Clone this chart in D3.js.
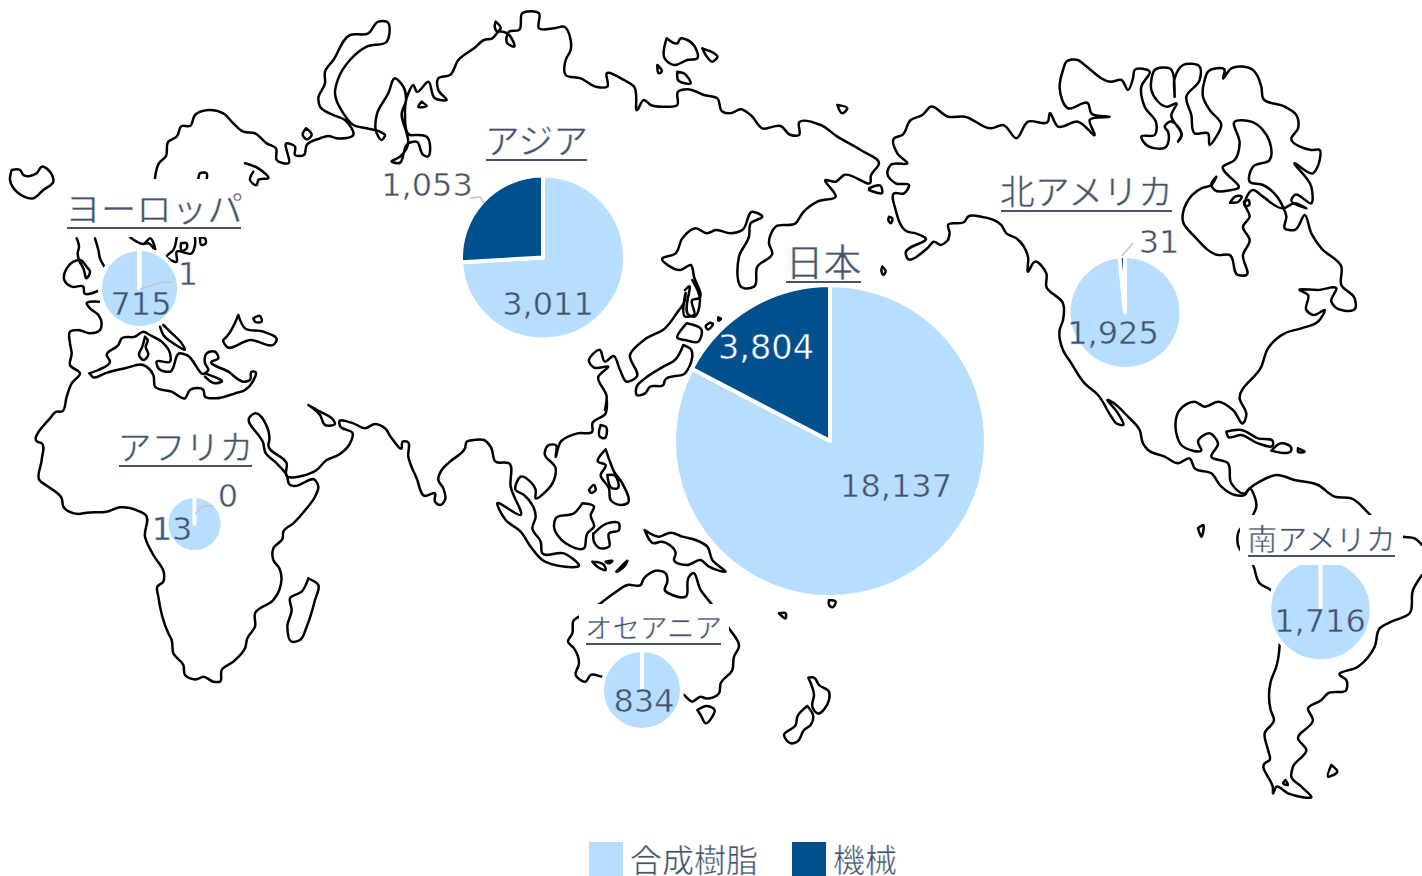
<!DOCTYPE html>
<html>
<head>
<meta charset="utf-8">
<script src="https://cdn.jsdelivr.net/npm/d3@7"></script>
<style>
  html, body { margin: 0; padding: 0; background: #fff; overflow: hidden; }
  svg { display: block; }
  text { fill: #44546a; stroke-width: 0.5px; }
  .num { font-family: "DejaVu Sans", sans-serif; font-size: 32px; text-anchor: middle; }
  .jp { font-family: "Noto Sans CJK JP", sans-serif; stroke: #fff; }
</style>
</head>
<body>
<div id="chart"></div>
<script>
// data
const regions = ['ヨーロッパ', 'アジア', '日本', '北アメリカ', 'アフリカ', 'オセアニア', '南アメリカ'];
const resin = [715, 3011, 18137, 1925, 13, 834, 1716];
const machinery = [1, 1053, 3804, 31, 0, 0, 0];
const seriesNames = ['合成樹脂', '機械'];
const seriesColors = ['#b8deff', '#00508e'];

// where each pie and its texts sit on the map
const pieLayout = [
  { cx: 139.5, cy: 288.5, r: 37.5 },
  { cx: 543, cy: 257.5, r: 80 },
  { cx: 830, cy: 441, r: 154 },
  { cx: 1125, cy: 312.5, r: 54.5 },
  { cx: 194.5, cy: 524, r: 26 },
  { cx: 642, cy: 690, r: 38 },
  { cx: 1320.5, cy: 610, r: 49.3 }
];
const titleLayout = [
  { x1: 67, x2: 241, y: 228, size: 35.5, box: [60, 179, 186, 58] },
  { x1: 486, x2: 587, y: 160, size: 35 },
  { x1: 786, x2: 861, y: 282, size: 38 },
  { x1: 1001, x2: 1172, y: 211, size: 35 },
  { x1: 119, x2: 252, y: 466, size: 34 },
  { x1: 586, x2: 721, y: 644, size: 27.5, box: [579, 604, 150, 46] },
  { x1: 1248, x2: 1395, y: 556, size: 30, box: [1240, 515, 163, 50] }
];
const resinLabels = [[141, 315], [548, 315], [896, 497], [1113, 344], [172, 540], [644, 712], [1320, 632]];
const machineLabels = [[188, 285], [427, 196], [766, 359], [1159, 253], [228, 507], null, null];
const leaders = [
  [[140, 289], [163, 282], [173, 282]],
  [[470, 198], [480, 197], [484, 203]],
  null,
  [[1122, 256], [1133, 243]],
  [[195, 514], [203, 506], [213, 506]],
  null,
  null
];

// coastline, [crop x, crop y, points at 3x]
const crop = (ox, oy, pts) => pts.map(([x, y]) => [ox + x / 3, oy + y / 3]);

const coast = [
  // Eurasia from Scandinavia round to the Med, then Africa
  [].concat(
    crop(0, 0, [[465,535],[478,488],[497,470],[505,425],[530,410],[545,378],[570,378],[585,345],[625,330],[670,340],[700,370],[730,395],[765,400],[800,430],[828,445],[830,480],[865,490],[860,430],[885,440],[885,465],[912,465],[920,435],[960,415],[985,408],[1010,415],[1060,405],[1035,360],[1000,345],[960,320],[955,295],[975,250],[975,215],[1000,180],[1050,105],[1105,100],[1135,65],[1160,65],[1160,125],[1100,140],[1050,180],[1015,235],[1005,280],[1030,340],[1060,375],[1100,385],[1140,395],[1155,405],[1145,420],[1130,400],[1130,345],[1165,280],[1185,235],[1210,260],[1218,300],[1205,340],[1220,400],[1225,425],[1200,470],[1175,485],[1195,490],[1225,430],[1250,425],[1270,465],[1280,470],[1280,410],[1250,405],[1230,405],[1215,340],[1225,280],[1240,255],[1250,275],[1285,245],[1305,295],[1340,300],[1315,270],[1315,235],[1350,225],[1375,180],[1422,145]]),
    crop(474, 0, [[30,120],[55,115],[75,95],[100,100],[120,140],[100,130],[105,95],[135,90],[145,40],[195,40],[195,85],[240,85],[270,80],[290,120],[290,150],[275,180],[275,225],[320,235],[365,260],[400,260],[398,220],[450,240],[480,260],[490,330],[510,300],[530,315],[570,320],[610,315],[612,275],[640,268],[690,285],[730,295],[745,335],[770,340],[800,328],[830,345],[865,385],[920,378],[950,405],[975,405],[975,368],[1040,375],[1090,410],[1160,450],[1215,490],[1190,530],[1190,545],[1110,525],[1085,545],[1055,540],[1085,590],[1030,605],[985,640],[965,670],[905,680],[885,730],[895,760],[850,800],[840,860],[810,865],[795,770],[825,710],[830,670],[865,650],[835,635],[805,690],[770,700],[725,690],[700,700],[665,685],[625,715],[605,760],[565,775],[620,810],[650,795],[660,830],[675,895],[655,900],[660,945],[635,950],[635,880]]),
    crop(585, 280, [[300,60],[275,100],[240,145],[180,178],[135,225],[155,290],[125,305],[105,270],[85,228],[60,245],[45,210],[12,245],[25,262],[70,260],[40,290],[65,350],[60,390]]),
    crop(474, 400, [[398,0],[395,40],[355,70],[355,95],[310,100],[260,125],[245,170],[245,135],[225,135],[212,160],[245,205],[240,240],[215,275],[185,295],[185,270],[140,230],[125,270],[150,285],[185,350],[175,385],[200,425],[205,460],[270,460],[315,495],[205,480],[170,440],[140,395],[95,360],[70,310],[140,345],[110,260],[105,190],[65,185],[50,140],[30,120],[0,120]]),
    crop(0, 400, [[1400,125],[1395,145],[1350,185],[1325,210],[1315,240],[1330,265],[1335,300],[1320,315],[1305,305],[1305,280],[1275,288],[1250,235],[1225,170],[1222,125],[1208,125],[1205,145],[1175,115],[1155,85],[1125,72],[1095,85],[1060,70],[1018,65],[1020,78],[1058,100],[1050,130],[1015,165],[980,180],[950,210],[905,228],[870,232],[862,230],[860,190],[805,135],[808,120],[760,42],[750,50],[790,130],[795,155],[830,190],[860,225],[870,255],[880,258],[945,240],[955,260],[945,290],[920,325],[880,370],[850,395],[848,415],[820,445],[820,480],[838,505],[838,570],[820,600],[765,640],[765,680],[742,715],[735,745],[700,785],[665,810],[660,845],[640,845],[610,830],[590,838],[555,825],[550,795],[520,760],[515,720],[505,700],[475,590],[472,560],[490,545],[492,520],[460,465],[435,410],[437,345],[420,335],[360,322],[320,335],[260,338],[235,342],[190,320],[185,295],[145,260],[118,240],[125,180],[125,130],[112,125],[150,55],[170,35]]),
    crop(55, 230, [[20,545],[35,500],[50,460],[75,430],[45,405],[50,370],[45,340],[45,305],[70,300],[105,310],[135,300],[140,280],[130,255],[105,235],[95,220],[132,215]])
  ),
  // Persian gulf
  crop(0, 400, [[925,15],[960,45],[975,75],[1005,70],[1000,60],[960,35],[925,15]]),
  // Britain and the North Sea
  crop(55, 230, [[128,183],[88,190],[85,170],[50,170],[28,150],[35,115],[55,95],[75,90],[95,110],[105,125],[95,145],[85,115],[72,90],[68,70],[72,50],[65,25]]),
  crop(55, 230, [[120,25],[130,60],[135,85],[148,110]]),
  // Med
  crop(55, 230, [[103,430],[130,420],[165,395],[155,375],[190,345],[200,325],[240,320],[265,305],[285,315],[320,335],[345,370],[345,395],[305,395],[310,415],[345,425],[375,370],[395,375],[450,430],[460,420],[450,400],[455,370],[480,365],[490,385],[470,395],[520,425],[570,455],[585,450],[590,425],[600,425],[590,460],[570,480],[540,490],[480,505],[450,500],[445,480],[405,480],[390,505],[350,485],[300,470],[295,435],[265,405],[210,415],[150,430],[115,442],[103,430]]),
  crop(55, 230, [[270,320],[278,330],[272,350],[280,375],[265,390],[252,375],[262,350],[270,320]]),
  crop(55, 230, [[325,285],[345,305],[380,340],[390,358],[355,340],[325,315],[315,290]]),
  crop(55, 230, [[450,430],[500,455],[480,460],[450,440]]),
  // Black sea
  crop(0, 0, [[715,945],[735,985],[790,995],[830,1020],[825,1030],[750,1020],[680,1040],[670,1020],[680,1010],[715,945]]),
  crop(0, 0, [[760,955],[780,948],[785,965],[765,965],[760,955]]),
  // Baltic bits below the title
  crop(55, 230, [[225,22],[245,35],[265,42],[285,25],[300,60],[280,40],[265,42]]),
  crop(55, 230, [[365,22],[355,60],[335,80],[365,95],[365,65],[410,70],[420,45],[420,22]]),
  crop(55, 230, [[378,40],[395,40],[395,55],[380,62],[378,40]]),
  crop(55, 230, [[435,22],[450,25],[452,40],[440,45],[435,22]]),
  // Iceland and northern islands
  crop(0, 0, [[35,510],[60,510],[70,525],[110,520],[125,500],[145,510],[160,545],[130,570],[100,595],[50,575],[30,540],[35,510]]),
  crop(0, 0, [[735,490],[775,505],[805,535],[775,540],[770,555],[750,540],[760,515]]),
  crop(0, 0, [[595,538],[600,520],[620,520],[620,538]]),
  crop(0, 0, [[918,385],[935,405],[920,418],[908,405],[918,385]]),
  crop(0, 0, [[1265,305],[1280,318],[1255,320],[1265,305]]),
  crop(474, 0, [[65,65],[80,85],[70,95],[62,80],[65,65]]),
  crop(474, 0, [[578,115],[610,130],[620,115],[640,120],[665,145],[670,175],[640,180],[600,195],[572,175],[578,115]]),
  crop(474, 0, [[685,145],[730,172],[715,185],[695,165],[685,145]]),
  crop(474, 0, [[550,195],[563,215],[555,220],[550,195]]),
  crop(474, 0, [[610,215],[630,220],[650,250],[612,240],[610,215]]),
  crop(474, 0, [[1090,315],[1120,325],[1105,340],[1090,315]]),
  crop(474, 0, [[1185,565],[1220,558],[1225,578],[1185,570]]),
  crop(474, 0, [[1245,650],[1255,655],[1250,670],[1243,660],[1245,650]]),
  crop(474, 0, [[1225,800],[1235,815],[1228,825],[1222,810],[1225,800]]),
  // Japan
  crop(585, 280, [[305,130],[350,150],[340,185],[300,180],[278,175],[305,130]]),
  crop(585, 280, [[295,195],[315,205],[300,280],[240,300],[235,315],[195,320],[180,340],[155,345],[155,320],[180,295],[235,260],[270,240],[295,195]]),
  crop(585, 280, [[300,30],[310,20],[312,105],[325,110],[345,60],[322,0]]),
  crop(585, 280, [[375,128],[383,130],[368,148],[362,140],[375,128]]),
  crop(585, 280, [[400,112],[408,116],[400,122],[400,112]]),
  // SE Asia
  crop(474, 400, [[380,75],[395,80],[390,115],[378,110],[380,75]]),
  crop(474, 400, [[395,148],[408,185],[420,215],[445,250],[460,310],[440,315],[410,300],[405,265],[380,225],[395,195],[372,185],[395,148]]),
  crop(474, 400, [[400,225],[420,225],[430,265],[415,265],[400,225]]),
  crop(474, 400, [[345,270],[360,255],[365,270],[350,278],[345,270]]),
  crop(474, 400, [[325,310],[360,320],[350,345],[360,380],[340,400],[330,445],[275,430],[240,375],[245,355],[300,340],[325,310]]),
  crop(474, 400, [[360,400],[400,370],[435,370],[435,390],[405,400],[405,440],[380,445],[360,425],[358,400]]),
  crop(474, 400, [[355,485],[390,495],[395,510],[370,500],[355,485]]),
  crop(474, 400, [[395,485],[415,483],[405,490],[395,485]]),
  crop(474, 400, [[427,515],[460,483],[450,500],[430,515]]),
  crop(474, 400, [[512,390],[555,410],[590,398],[625,410],[665,420],[700,440],[715,480],[755,515],[705,500],[680,480],[640,495],[600,480],[605,460],[560,425],[540,430],[512,390]]),
  // Australia and NZ
  crop(474, 400, [[380,610],[420,580],[460,555],[500,555],[510,535],[555,512],[575,520],[580,545],[572,570],[595,585],[635,590],[645,530],[655,520],[680,570],[715,615],[765,685],[795,740],[780,770],[775,810],[740,850],[735,880],[695,895],[680,890],[655,905],[630,885],[500,830],[385,830],[350,825],[335,845],[305,825],[315,790],[300,745],[282,725],[295,700],[300,660],[315,650],[380,610]]),
  crop(474, 400, [[670,930],[700,918],[722,930],[715,950],[695,970],[680,945],[670,930]]),
  crop(474, 400, [[1003,833],[1020,833],[1035,855],[1065,875],[1065,900],[1030,940],[1015,920],[1020,885],[1003,833]]),
  crop(474, 400, [[1000,918],[1018,950],[1010,975],[990,990],[970,1025],[950,1030],[930,1005],[965,975],[970,950],[1000,918]]),
  crop(474, 400, [[915,640],[935,640],[935,655],[915,640]]),
  crop(474, 400, [[1065,600],[1085,605],[1075,622],[1065,615],[1065,600]]),
  // Madagascar
  crop(0, 400, [[925,535],[955,555],[945,600],[920,680],[900,720],[875,725],[862,680],[875,630],[870,595],[905,575],[925,535]]),
  // Alaska and Canada, down the east side to Central America and South America
  [].concat(
    crop(474, 0, [[1422,720],[1400,735],[1380,725],[1360,745],[1300,775],[1295,760],[1355,715],[1325,700],[1300,695],[1265,630],[1260,580],[1290,580],[1305,555],[1265,550],[1240,520],[1250,495],[1300,490],[1270,460],[1260,415],[1285,405],[1310,360],[1345,345],[1370,320],[1422,350]]),
    crop(948, 0, [[50,350],[130,385],[165,375],[205,415],[240,365],[300,365],[305,340],[330,380],[390,365],[440,405],[425,360],[485,350],[430,340],[420,310],[360,325],[335,265],[345,210],[355,185],[390,180],[410,195],[490,245],[520,240],[540,270],[555,235],[560,210],[605,215],[580,260],[590,320],[625,370],[620,405],[580,410],[590,430],[655,440],[660,395],[650,380],[665,365],[700,405],[690,425],[700,410],[670,345],[685,310],[660,320],[610,270],[610,240],[620,210],[665,205],[680,290],[680,235],[705,195],[755,200],[755,240],[715,290],[730,345],[740,400],[780,400],[785,435],[805,410],[820,375],[785,330],[765,290],[770,240],[780,215],[830,210],[825,235],[850,205],[915,210],[940,260],[945,295],[1010,320],[1045,345],[1050,385],[1030,415],[1090,450],[1115,450],[1115,480],[1095,520],[1040,490],[1090,560],[1090,610],[1040,585],[1030,600],[1075,625],[1040,610],[1005,625],[945,590],[915,570],[890,610],[905,650],[885,680],[905,720],[885,765],[895,825],[870,825],[845,765],[810,765],[740,710],[705,665],[715,610],[760,565],[790,555],[805,530],[790,555],[800,570],[850,570],[870,565],[825,500],[860,480],[875,430],[860,365],[910,365],[965,425],[965,480],[915,500],[905,545],[945,555],[1005,620],[1015,650],[1010,685],[1040,690],[1070,645],[1090,700],[1120,745],[1180,800],[1180,855],[1220,895],[1222,925],[1160,920],[1150,905],[1165,865],[1110,870],[1055,870],[1080,885],[1075,930],[1095,945],[1130,930],[1110,965],[1060,985],[1010,1000],[960,1045],[940,1100],[875,1195]]),
    crop(948, 400, [[895,45],[885,70],[855,30],[810,5],[770,20],[740,5],[695,30],[685,100],[700,135],[760,150],[750,125],[785,100],[810,130],[790,170],[840,190],[850,250],[890,280],[905,265],[935,245],[985,225],[1040,240],[1110,255],[1160,290],[1210,295],[1262,340],[1300,380],[1365,410],[1400,415],[1422,435]])
  ),
  // Pacific side, Alaska down to Panama and round to the Atlantic
  [].concat(
    crop(948, 0, [[0,720],[5,700],[0,675],[50,665],[60,650],[100,650],[160,675],[175,700],[205,715],[240,770],[240,815],[260,785],[295,820],[295,860],[345,910],[345,960],[335,990],[345,1050],[370,1090],[410,1150],[450,1185]]),
    crop(948, 400, [[490,50],[505,70],[525,75],[510,40],[480,0],[490,5],[540,50],[575,90],[585,130],[600,150],[650,170],[690,190],[725,175],[740,205],[790,220],[820,260],[860,285],[890,285],[905,265],[920,290],[925,320],[915,345],[870,400],[870,435],[915,495],[935,550],[968,570],[990,650],[995,735],[985,800],[968,845],[968,930],[978,960],[950,1000],[960,1050],[965,1080],[950,1090],[975,1165],[975,1180],[985,1160],[1020,1180],[1090,1190],[1060,1160],[1030,1130],[1035,1100],[1075,1050],[1050,1015],[1095,960],[1080,925],[1120,900],[1140,880],[1195,870],[1195,840],[1175,825],[1230,800],[1280,740],[1295,685],[1330,665],[1385,640],[1395,570],[1422,525]])
  ),
  // Caribbean and the little Atlantic and Pacific islands
  crop(948, 400, [[835,95],[880,90],[930,115],[975,125],[975,135],[930,130],[880,105],[840,110],[835,95]]),
  crop(948, 400, [[970,152],[1000,130],[1030,145],[1030,150],[970,152]]),
  crop(948, 400, [[1050,145],[1070,155],[1050,155],[1050,145]]),
  crop(948, 400, [[750,385],[765,375],[760,410],[750,385]]),
  crop(948, 400, [[1150,1095],[1168,1115],[1140,1130],[1150,1095]]),
  crop(948, 400, [[1012,1140],[1020,1155],[1005,1150],[1012,1140]]),
  // small lake on the Canadian side
  crop(1170, 60, [[180,428],[200,408],[215,410],[205,425],[180,428]]),
  crop(1170, 60, [[222,425],[235,420],[238,435],[225,438],[222,425]])
];

const width = 1422;
const height = 876;

const svg = d3.select('#chart').append('svg')
  .attr('width', width)
  .attr('height', height);

// map
const coastLine = d3.line().curve(d3.curveCatmullRom.alpha(1));

svg.append('g')
  .selectAll('path')
  .data(coast)
  .join('path')
  .attr('d', coastLine)
  .attr('fill', 'none')
  .attr('stroke', '#000')
  .attr('stroke-width', 2.5)
  .attr('stroke-linejoin', 'round')
  .attr('stroke-linecap', 'round');

// pies
const pie = d3.pie().sort(null);

regions.forEach((region, i) => {
  const { cx, cy, r } = pieLayout[i];
  const arc = d3.arc().innerRadius(0).outerRadius(r + 2);

  svg.append('g')
    .attr('transform', `translate(${cx},${cy})`)
    .selectAll('path')
    .data(pie([resin[i], machinery[i]]))
    .join('path')
    .attr('d', arc)
    .attr('fill', (d, j) => seriesColors[j])
    .attr('stroke', '#fff')
    .attr('stroke-width', 4)
    .attr('stroke-linejoin', 'round');
});

// leader lines
svg.append('g')
  .selectAll('path')
  .data(leaders.filter(d => d))
  .join('path')
  .attr('d', d3.line())
  .attr('fill', 'none')
  .attr('stroke', '#bfc5ce')
  .attr('stroke-width', 1.5);

// region titles go over the map and the pies, with a white box behind some of them
titleLayout.forEach((t, i) => {
  if (t.box) {
    svg.append('rect')
      .attr('x', t.box[0]).attr('y', t.box[1])
      .attr('width', t.box[2]).attr('height', t.box[3])
      .attr('fill', '#fff');
  }
  svg.append('text')
    .attr('class', 'jp')
    .attr('x', (t.x1 + t.x2) / 2)
    .attr('y', t.y - 6)
    .attr('text-anchor', 'middle')
    .style('font-size', t.size + 'px')
    .text(regions[i]);
  svg.append('line')
    .attr('x1', t.x1).attr('x2', t.x2)
    .attr('y1', t.y).attr('y2', t.y)
    .attr('stroke', '#44546a')
    .attr('stroke-width', 1.8);
});

// values, the thin stroke in the colour behind keeps the digits as light as the original
const fmt = d3.format(',');
resin.forEach((v, i) => {
  svg.append('text').attr('class', 'num')
    .attr('x', resinLabels[i][0]).attr('y', resinLabels[i][1])
    .style('stroke', seriesColors[0])
    .text(fmt(v));
});
machinery.forEach((v, i) => {
  if (!machineLabels[i]) return;
  const onDark = regions[i] === '日本';
  svg.append('text').attr('class', 'num')
    .attr('x', machineLabels[i][0]).attr('y', machineLabels[i][1])
    .style('fill', onDark ? '#fff' : null)
    .style('stroke', onDark ? seriesColors[1] : '#fff')
    .style('font-size', onDark ? '33.5px' : null)
    .text(fmt(v));
});

// legend
const legendX = [589, 792];
seriesNames.forEach((name, i) => {
  svg.append('rect')
    .attr('x', legendX[i]).attr('y', 842)
    .attr('width', 34).attr('height', 34)
    .attr('fill', seriesColors[i]);
  svg.append('text')
    .attr('class', 'jp')
    .attr('x', legendX[i] + 41)
    .attr('y', 872)
    .style('font-size', '32px')
    .text(name);
});
</script>
</body>
</html>
